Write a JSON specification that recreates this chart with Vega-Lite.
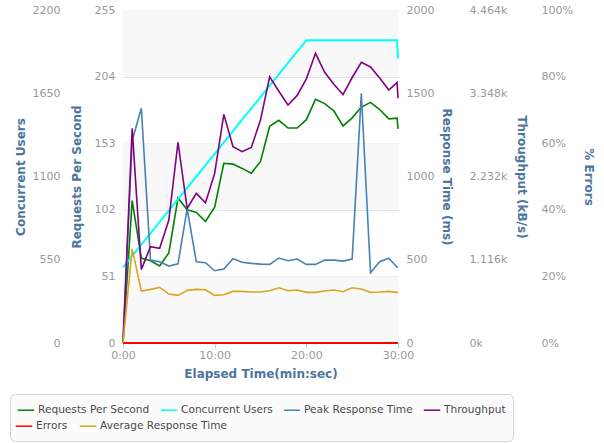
{
  "$schema": "https://vega.github.io/schema/vega-lite/v6.json",
  "width": 275,
  "height": 333,
  "autosize": {"type": "none"},
  "padding": {"left": 123, "top": 10, "right": 206, "bottom": 100},
  "background": "white",
  "config": {
    "view": {"stroke": null},
    "font": "DejaVu Sans",
    "axis": {
      "labelFont": "DejaVu Sans",
      "labelFontSize": 11,
      "labelColor": "#999999",
      "titleFont": "DejaVu Sans",
      "titleFontSize": 12,
      "titleFontWeight": "bold",
      "titleColor": "#4d759e",
      "domain": false,
      "ticks": false,
      "grid": false,
      "labelPadding": 8
    }
  },
  "datasets": {
    "bands": [
      {"lo": 0, "hi": 51},
      {"lo": 102, "hi": 153},
      {"lo": 204, "hi": 255}
    ],
    "perf": [
      {"t": 0, "rps": 0, "users": 500, "peak": 0, "thr": 0, "err": 0, "avg": 0},
      {"t": 1, "rps": 109, "users": 575, "peak": 1215, "thr": 2878, "err": 0, "avg": 566},
      {"t": 2, "rps": 65, "users": 650, "peak": 1410, "thr": 987, "err": 0, "avg": 312},
      {"t": 3, "rps": 63, "users": 725, "peak": 498, "thr": 1292, "err": 0, "avg": 322},
      {"t": 4, "rps": 59, "users": 800, "peak": 488, "thr": 1269, "err": 0, "avg": 334},
      {"t": 5, "rps": 69, "users": 875, "peak": 462, "thr": 1649, "err": 0, "avg": 294},
      {"t": 6, "rps": 111, "users": 950, "peak": 476, "thr": 2691, "err": 0, "avg": 286},
      {"t": 7, "rps": 102, "users": 1025, "peak": 806, "thr": 1803, "err": 0, "avg": 316},
      {"t": 8, "rps": 100, "users": 1100, "peak": 488, "thr": 2006, "err": 0, "avg": 322},
      {"t": 9, "rps": 93, "users": 1175, "peak": 482, "thr": 1880, "err": 0, "avg": 320},
      {"t": 10, "rps": 104, "users": 1250, "peak": 434, "thr": 2274, "err": 0, "avg": 286},
      {"t": 11, "rps": 137.6, "users": 1325, "peak": 444, "thr": 3065, "err": 0, "avg": 290},
      {"t": 12, "rps": 137, "users": 1400, "peak": 506, "thr": 2631, "err": 0, "avg": 310},
      {"t": 13, "rps": 133.7, "users": 1475, "peak": 485, "thr": 2565, "err": 0, "avg": 310},
      {"t": 14, "rps": 130, "users": 1550, "peak": 478, "thr": 2622, "err": 0, "avg": 306},
      {"t": 15, "rps": 139, "users": 1625, "peak": 474, "thr": 2990, "err": 0, "avg": 306},
      {"t": 16, "rps": 166, "users": 1700, "peak": 472, "thr": 3569, "err": 0, "avg": 314},
      {"t": 17, "rps": 170.5, "users": 1775, "peak": 510, "thr": 3375, "err": 0, "avg": 332},
      {"t": 18, "rps": 164.6, "users": 1850, "peak": 494, "thr": 3190, "err": 0, "avg": 314},
      {"t": 19, "rps": 164.6, "users": 1925, "peak": 504, "thr": 3319, "err": 0, "avg": 318},
      {"t": 20, "rps": 171, "users": 2000, "peak": 472, "thr": 3540, "err": 0, "avg": 304},
      {"t": 21, "rps": 186.6, "users": 2000, "peak": 472, "thr": 3883, "err": 0, "avg": 304},
      {"t": 22, "rps": 183.3, "users": 2000, "peak": 498, "thr": 3629, "err": 0, "avg": 312},
      {"t": 23, "rps": 177.8, "users": 2000, "peak": 498, "thr": 3468, "err": 0, "avg": 318},
      {"t": 24, "rps": 166.2, "users": 2000, "peak": 492, "thr": 3330, "err": 0, "avg": 308},
      {"t": 25, "rps": 172.4, "users": 2000, "peak": 504, "thr": 3559, "err": 0, "avg": 332},
      {"t": 26, "rps": 180.7, "users": 2000, "peak": 1500, "thr": 3762, "err": 0, "avg": 324},
      {"t": 27, "rps": 184.3, "users": 2000, "peak": 422, "thr": 3701, "err": 0, "avg": 304},
      {"t": 28, "rps": 178.8, "users": 2000, "peak": 488, "thr": 3552, "err": 0, "avg": 306},
      {"t": 29, "rps": 171.6, "users": 2000, "peak": 509, "thr": 3391, "err": 0, "avg": 310},
      {"t": 29.9, "rps": 172.2, "users": 2000, "peak": 455, "thr": 3492, "err": 0, "avg": 304},
      {"t": 30, "rps": 164, "users": 1880, "peak": 455, "thr": 3281, "err": 0, "avg": 304}
    ]
  },
  "data": {"name": "perf"},
  "encoding": {
    "x": {
      "field": "t",
      "type": "quantitative",
      "scale": {"domain": [0, 30], "nice": false, "zero": false},
      "axis": {
        "values": [0, 10, 20, 30],
        "labelExpr": "datum.value + ':00'",
        "title": "Elapsed Time(min:sec)",
        "domain": true,
        "domainColor": "#c0d0e0",
        "ticks": true,
        "tickSize": 5,
        "tickColor": "#c0d0e0",
        "labelPadding": 1,
        "labelFlush": false,
        "titlePadding": 8,
        "grid": false
      }
    }
  },
  "layer": [
    {
      "data": {"name": "bands"},
      "mark": {"type": "rect", "color": "#f8f8f8"},
      "encoding": {
        "x": {"value": 0},
        "x2": {"value": "width"},
        "y": {"field": "lo", "type": "quantitative", "scale": {"domain": [0, 255], "nice": false}, "axis": null},
        "y2": {"field": "hi"}
      }
    },
    {
      "mark": {"type": "line", "strokeWidth": 1.6},
      "encoding": {
        "y": {
          "field": "rps", "type": "quantitative",
          "scale": {"domain": [0, 255], "nice": false},
          "axis": {"orient": "left", "values": [0, 51, 102, 153, 204, 255], "grid": true, "gridColor": "#e2e2e2", "title": "Requests Per Second", "titlePadding": 11}
        },
        "color": {
          "datum": "Requests Per Second", "type": "nominal",
          "scale": {
            "domain": ["Requests Per Second", "Concurrent Users", "Peak Response Time", "Throughput"],
            "range": ["#008000", "#00ffff", "#4682b4", "#800080"]
          },
          "legend": {
            "orient": "none",
            "legendX": -113,
            "legendY": 384,
            "direction": "horizontal",
            "columns": 4,
            "title": " ",
            "titleOrient": "bottom",
            "titleFontSize": 12,
            "titlePadding": 7,
            "symbolType": "stroke",
            "symbolSize": 272,
            "symbolStrokeWidth": 1.5,
            "labelFont": "DejaVu Sans",
            "labelFontSize": 10.6,
            "labelColor": "#4a4a4a",
            "labelOffset": 3,
            "labelLimit": 300,
            "columnPadding": 7,
            "padding": 7,
            "fillColor": "#fbfbfb",
            "strokeColor": "#d4d4d4",
            "cornerRadius": 5
          }
        }
      }
    },
    {
      "mark": {"type": "line", "strokeWidth": 2},
      "encoding": {
        "y": {
          "field": "users", "type": "quantitative",
          "scale": {"domain": [0, 2200], "nice": false},
          "axis": {"orient": "left", "offset": 55, "values": [0, 550, 1100, 1650, 2200], "format": "d", "title": "Concurrent Users", "titlePadding": 5}
        },
        "color": {"datum": "Concurrent Users", "type": "nominal"}
      }
    },
    {
      "mark": {"type": "line", "strokeWidth": 1.6},
      "encoding": {
        "y": {
          "field": "peak", "type": "quantitative",
          "scale": {"domain": [0, 2000], "nice": false},
          "axis": {"orient": "right", "values": [0, 500, 1000, 1500, 2000], "format": "d", "title": "Response Time (ms)", "titlePadding": 6}
        },
        "color": {"datum": "Peak Response Time", "type": "nominal"}
      }
    },
    {
      "mark": {"type": "line", "strokeWidth": 1.6},
      "encoding": {
        "y": {
          "field": "thr", "type": "quantitative",
          "scale": {"domain": [0, 4464], "nice": false},
          "axis": {"orient": "right", "offset": 63, "values": [0, 1116, 2232, 3348, 4464], "labelExpr": "datum.value == 0 ? '0k' : format(datum.value / 1000, '.3f') + 'k'", "title": "Throughput (kB/s)", "titlePadding": 8}
        },
        "color": {"datum": "Throughput", "type": "nominal"}
      }
    },
    {
      "mark": {"type": "line", "strokeWidth": 2},
      "encoding": {
        "y": {
          "field": "err", "type": "quantitative",
          "scale": {"domain": [0, 100], "nice": false},
          "axis": {"orient": "right", "offset": 135, "values": [0, 20, 40, 60, 80, 100], "labelExpr": "datum.value + '%'", "title": "% Errors", "titlePadding": 9}
        },
        "stroke": {
          "datum": "Errors", "type": "nominal",
          "scale": {
            "domain": ["Errors", "Average Response Time"],
            "range": ["#ff0000", "#daa520"]
          },
          "legend": {
            "orient": "none",
            "legendX": -108,
            "legendY": 407,
            "direction": "horizontal",
            "columns": 2,
            "title": null,
            "symbolType": "stroke",
            "symbolSize": 272,
            "symbolStrokeWidth": 1.5,
            "labelFont": "DejaVu Sans",
            "labelFontSize": 10.6,
            "labelColor": "#4a4a4a",
            "labelOffset": 3,
            "labelLimit": 300,
            "columnPadding": 8,
            "padding": 0
          }
        }
      }
    },
    {
      "mark": {"type": "line", "strokeWidth": 1.6},
      "encoding": {
        "y": {
          "field": "avg", "type": "quantitative",
          "scale": {"domain": [0, 2000], "nice": false},
          "axis": null
        },
        "stroke": {"datum": "Average Response Time", "type": "nominal"}
      }
    }
  ],
  "resolve": {"scale": {"y": "independent"}}
}
